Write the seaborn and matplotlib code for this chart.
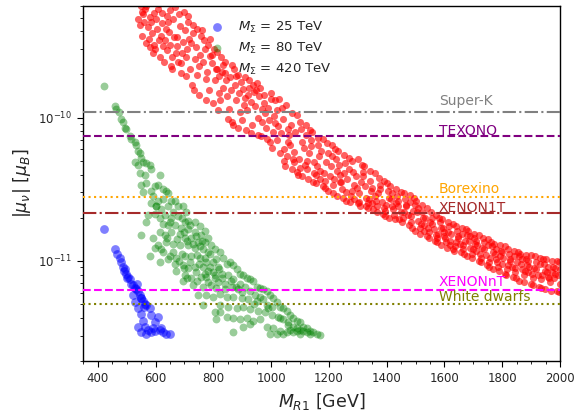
import numpy as np
import pandas as pd
import matplotlib
matplotlib.use("Agg")
import matplotlib.pyplot as plt
import seaborn as sns
from matplotlib.ticker import FixedLocator, NullFormatter

# ---------------- data (M_R1 in GeV, log10 |mu_nu| in mu_B) ----------------
blue_mass = [422, 461, 468, 476, 482, 487, 493, 499, 505, 511, 516, 522, 528, 537,
             539, 545, 551, 557, 562, 568, 528, 539, 580, 551, 586, 609, 557, 562,
             574, 586, 597, 614, 626, 638, 649, 551, 568, 539, 491, 502, 534, 549,
             522, 560, 597, 591, 620]
blue_log_mu = [-10.78, -10.92, -10.95, -10.98, -11.01, -11.04, -11.06, -11.09, -11.11,
               -11.13, -11.16, -11.17, -11.19, -11.16, -11.21, -11.24, -11.26, -11.28,
               -11.30, -11.31, -11.29, -11.33, -11.33, -11.37, -11.38, -11.39, -11.42,
               -11.46, -11.48, -11.50, -11.49, -11.48, -11.50, -11.51, -11.51, -11.50,
               -11.51, -11.46, -11.07, -11.12, -11.20, -11.26, -11.24, -11.32, -11.43,
               -11.47, -11.47]

green_mass = [
    422, 459, 464, 472, 482, 487, 493, 499, 511, 516, 528, 534, 539, 545, 551, 528,
    539, 557, 568, 580, 586, 545, 562, 614, 551, 568, 586, 597, 609, 626, 638, 643,
    557, 591, 609, 626, 655, 666, 586, 603, 643, 678, 695, 707, 574, 597, 632, 655,
    678, 701, 712, 736, 753, 770, 568, 626, 643, 666, 689, 712, 736, 759, 782, 793,
    551, 591, 614, 632, 655, 684, 701, 724, 747, 770, 609, 638, 661, 684, 712, 736,
    764, 782, 805, 580, 597, 626, 649, 672, 701, 724, 753, 776, 799, 614, 643, 666,
    695, 712, 736, 764, 782, 805, 672, 701, 724, 759, 776, 805, 695, 730, 764, 793,
    811, 747, 776, 799, 764, 805, 811,
    823, 835, 846, 818, 858, 869, 881, 892, 904, 916, 927, 939, 950, 962, 973, 985,
    996, 1008, 1019, 1031, 1042, 1054, 1066, 1077, 1089, 1100, 1112, 1123, 1135, 1146,
    1158, 1169,
    829, 852, 869, 892, 840, 864, 887, 910, 927, 944, 823, 846, 869, 898, 921, 950,
    973, 985, 1002, 823, 852, 881, 904, 927, 956, 979, 1002, 1025, 1042, 1060, 1077,
    1100, 1123, 1135, 823, 846, 869, 892, 916, 939, 962, 985, 1008, 1031, 1054, 1077,
    1100, 869, 904, 927, 996, 1019, 1042, 1066, 1089, 1112,
    600, 620, 660, 690, 720, 615, 650, 700, 740, 760, 640, 675, 710, 730, 755, 790,
    620, 660, 690, 745, 770, 810, 680, 720, 750, 790, 820, 700, 740, 770, 800, 830,
    710, 745, 780, 815, 860, 880, 840, 900, 960, 940, 990, 1030, 1060, 1090]
green_log_mu = [
    -9.78, -9.92, -9.94, -9.96, -10.01, -10.03, -10.07, -10.08, -10.13, -10.15, -10.17,
    -10.19, -10.23, -10.25, -10.28, -10.31, -10.33, -10.31, -10.32, -10.33, -10.36,
    -10.39, -10.40, -10.40, -10.47, -10.46, -10.51, -10.48, -10.47, -10.50, -10.51,
    -10.53, -10.52, -10.55, -10.58, -10.57, -10.58, -10.58, -10.60, -10.62, -10.62,
    -10.62, -10.62, -10.66, -10.68, -10.67, -10.68, -10.70, -10.69, -10.73, -10.72,
    -10.73, -10.76, -10.79, -10.73, -10.74, -10.75, -10.75, -10.77, -10.78, -10.80,
    -10.82, -10.84, -10.89, -10.82, -10.84, -10.80, -10.82, -10.80, -10.81, -10.84,
    -10.84, -10.87, -10.87, -10.89, -10.87, -10.88, -10.89, -10.89, -10.91, -10.92,
    -10.94, -10.92, -10.97, -10.91, -10.94, -10.97, -10.98, -10.97, -10.97, -10.98,
    -11.01, -11.01, -11.01, -10.99, -11.02, -11.03, -11.05, -11.04, -11.04, -11.07,
    -11.10, -11.07, -11.10, -11.12, -11.11, -11.11, -11.12, -11.14, -11.17, -11.18,
    -11.17, -11.19, -11.24, -11.24, -11.25, -11.31, -11.36, -11.41,
    -10.94, -10.98, -11.02, -11.04, -11.01, -11.03, -11.06, -11.09, -11.10, -11.12,
    -11.13, -11.14, -11.18, -11.19, -11.20, -11.21, -11.24, -11.26, -11.29, -11.32,
    -11.33, -11.35, -11.38, -11.40, -11.42, -11.43, -11.46, -11.47, -11.49, -11.50,
    -11.51, -11.52,
    -11.09, -11.10, -11.13, -11.16, -11.16, -11.18, -11.20, -11.18, -11.21, -11.24,
    -11.23, -11.25, -11.25, -11.26, -11.27, -11.28, -11.27, -11.31, -11.32, -11.31,
    -11.32, -11.33, -11.32, -11.34, -11.35, -11.36, -11.38, -11.39, -11.41, -11.43,
    -11.46, -11.48, -11.50, -11.51, -11.36, -11.39, -11.40, -11.41, -11.40, -11.42,
    -11.41, -11.46, -11.47, -11.49, -11.50, -11.50, -11.51, -11.50, -11.46, -11.44,
    -11.51, -11.51, -11.51, -11.48, -11.47, -11.49,
    -10.62, -10.64, -10.66, -10.70, -10.75, -10.70, -10.73, -10.80, -10.83, -10.86,
    -10.84, -10.85, -10.86, -10.88, -10.90, -10.95, -10.92, -10.94, -10.95, -10.96,
    -10.98, -10.99, -11.00, -11.01, -11.02, -11.04, -11.06, -11.05, -11.08, -11.09,
    -11.08, -11.12, -11.12, -11.14, -11.15, -11.15, -11.14, -11.18, -11.20, -11.22,
    -11.25, -11.30, -11.33, -11.40, -11.45, -11.49]

red_mass = [
    541, 549, 546, 552,
    554, 563, 559, 566, 556,
    573, 581, 568, 577, 580,
    595, 587, 590, 583, 594,
    599, 608, 604, 611, 601,
    624, 615, 621, 618, 627, 613,
    633, 641, 628, 637, 640,
    651, 646, 657, 644, 653, 649,
    670, 662, 665, 658, 669,
    684, 675, 681, 678, 687, 673,
    689, 698, 694, 701, 691,
    711, 706, 717, 704, 713, 709,
    723, 731, 718, 727, 730,
    745, 737, 740, 733, 744,
    749, 758, 754, 761, 751,
    768, 776, 763, 772, 775,
    790, 782, 785, 778, 789,
    794, 803, 799, 806, 796,
    813, 821, 808, 817, 820,
    835, 827, 830, 823, 834,
    839, 848, 844, 851, 841,
    858, 866, 853, 862, 865,
    880, 872, 875, 868, 879,
    884, 893, 889, 896, 886,
    903, 911, 898, 907, 910,
    925, 917, 920, 913, 924,
    929, 938, 934, 941, 931,
    948, 956, 943, 952, 955,
    970, 962, 965, 958, 969,
    974, 983, 979, 986, 976,
    993, 1001, 988, 997, 1000,
    1015, 1007, 1010, 1003, 1014,
    1019, 1028, 1024, 1031, 1021,
    1038, 1046, 1033, 1042, 1045,
    1060, 1052, 1055, 1048, 1059,
    1074, 1065, 1071, 1068, 1077, 1063,
    1079, 1088, 1084, 1091, 1081,
    1101, 1096, 1107, 1094, 1103, 1099,
    1113, 1121, 1108, 1117, 1120,
    1134, 1125, 1131, 1128, 1137, 1123,
    1150, 1142, 1145, 1138, 1149,
    1161, 1156, 1167, 1154, 1163, 1159,
    1169, 1178, 1174, 1181, 1171,
    1194, 1185, 1191, 1188, 1197, 1183,
    1203, 1211, 1198, 1207, 1210,
    1221, 1216, 1227, 1214, 1223, 1219,
    1240, 1232, 1235, 1228, 1239,
    1254, 1245, 1251, 1248, 1257, 1243,
    1259, 1268, 1264, 1271, 1261,
    1281, 1276, 1287, 1274, 1283, 1279,
    1293, 1301, 1288, 1297, 1300,
    1314, 1305, 1311, 1308, 1317, 1303,
    1330, 1322, 1325, 1318, 1329,
    1341, 1336, 1347, 1334, 1343, 1339,
    1349, 1358, 1354, 1361, 1351,
    1374, 1365, 1371, 1368, 1377, 1363,
    1383, 1391, 1378, 1387, 1390,
    1401, 1396, 1407, 1394, 1403, 1399,
    1420, 1412, 1415, 1408, 1419,
    1434, 1425, 1431, 1428, 1437, 1423,
    1439, 1448, 1444, 1451, 1441,
    1461, 1456, 1467, 1454, 1463, 1459,
    1473, 1481, 1468, 1477, 1480,
    1494, 1485, 1491, 1488, 1497, 1483,
    1510, 1502, 1505, 1498, 1509,
    1521, 1516, 1527, 1514, 1523, 1519,
    1529, 1538, 1534, 1541, 1531,
    1554, 1545, 1551, 1548, 1557, 1543,
    1563, 1571, 1558, 1567, 1570,
    1581, 1576, 1587, 1574, 1583, 1579,
    1600, 1592, 1595, 1588, 1599,
    1614, 1605, 1611, 1608, 1617, 1603,
    1619, 1628, 1624, 1631, 1621,
    1641, 1636, 1647, 1634, 1643, 1639,
    1653, 1661, 1648, 1657, 1660,
    1674, 1665, 1671, 1668, 1677, 1663,
    1690, 1682, 1685, 1678, 1689,
    1701, 1696, 1707, 1694, 1703, 1699,
    1709, 1718, 1714, 1721, 1711,
    1734, 1725, 1731, 1728, 1737, 1723,
    1743, 1751, 1738, 1747, 1750,
    1761, 1756, 1767, 1754, 1763, 1759,
    1780, 1772, 1775, 1768, 1779,
    1794, 1785, 1791, 1788, 1797, 1783,
    1799, 1808, 1804, 1811, 1801,
    1821, 1816, 1827, 1814, 1823, 1819,
    1833, 1841, 1828, 1837, 1840,
    1854, 1845, 1851, 1848, 1857, 1843,
    1870, 1862, 1865, 1858, 1869,
    1881, 1876, 1887, 1874, 1883, 1879,
    1889, 1898, 1894, 1901, 1891,
    1914, 1905, 1911, 1908, 1917, 1903,
    1923, 1931, 1918, 1927, 1930,
    1941, 1936, 1947, 1934, 1943, 1939,
    1960, 1952, 1955, 1948, 1959,
    1974, 1965, 1971, 1968, 1977, 1963,
    1979, 1988, 1984, 1991, 1981,
    1996, 1999, 1993, 1997, 1999]
red_log_mu = [
    -9.31, -9.22, -9.35, -9.26,
    -9.43, -9.24, -9.33, -9.48, -9.28,
    -9.37, -9.51, -9.22, -9.45, -9.30,
    -9.27, -9.41, -9.55, -9.33, -9.49,
    -9.52, -9.24, -9.38, -9.46, -9.31,
    -9.34, -9.58, -9.27, -9.43, -9.50, -9.21,
    -9.46, -9.29, -9.61, -9.38, -9.53,
    -9.25, -9.40, -9.58, -9.33, -9.64, -9.49,
    -9.55, -9.31, -9.44, -9.66, -9.23,
    -9.36, -9.50, -9.28, -9.61, -9.69, -9.44,
    -9.62, -9.26, -9.47, -9.39, -9.55,
    -9.33, -9.71, -9.45, -9.58, -9.29, -9.52,
    -9.48, -9.35, -9.66, -9.77, -9.41,
    -9.38, -9.59, -9.51, -9.81, -9.70,
    -9.64, -9.43, -9.56, -9.39, -9.84,
    -9.46, -9.73, -9.61, -9.52, -9.88,
    -9.57, -9.49, -9.81, -9.68, -9.45,
    -9.62, -9.52, -9.90, -9.74, -9.56,
    -9.54, -9.71, -9.66, -9.95, -9.83,
    -9.79, -9.58, -9.68, -9.88, -9.63,
    -9.61, -9.85, -9.74, -10.01, -9.69,
    -9.72, -9.63, -9.94, -9.81, -10.03,
    -9.88, -9.66, -9.77, -10.05, -9.71,
    -9.70, -9.96, -9.83, -9.75, -10.07,
    -9.80, -9.72, -10.02, -9.91, -9.86,
    -9.74, -9.95, -9.84, -10.09, -9.79,
    -9.89, -9.77, -10.05, -9.82, -10.11,
    -9.81, -10.00, -9.92, -9.76, -10.12,
    -9.94, -9.79, -10.13, -9.85, -10.03,
    -9.84, -10.07, -9.97, -10.15, -9.90,
    -10.02, -9.83, -9.93, -10.17, -9.87,
    -9.88, -10.10, -9.99, -10.21, -10.04,
    -10.16, -9.87, -10.06, -10.25, -9.95,
    -9.93, -10.22, -10.11, -10.01, -10.30,
    -10.08, -9.91, -10.27, -10.34, -10.17,
    -9.97, -10.19, -10.36, -10.05, -10.29, -10.12,
    -10.24, -9.98, -10.10, -10.38, -10.31,
    -10.03, -10.29, -10.17, -10.40, -10.08, -10.35,
    -10.21, -10.05, -10.41, -10.33, -10.12,
    -10.09, -10.36, -10.25, -10.43, -10.16, -10.30,
    -10.31, -10.10, -10.45, -10.20, -10.39,
    -10.14, -10.40, -10.27, -10.46, -10.19, -10.34,
    -10.37, -10.15, -10.23, -10.48, -10.43,
    -10.18, -10.44, -10.31, -10.49, -10.25, -10.39,
    -10.41, -10.19, -10.51, -10.34, -10.27,
    -10.22, -10.47, -10.37, -10.53, -10.29, -10.43,
    -10.45, -10.23, -10.33, -10.55, -10.40,
    -10.26, -10.50, -10.39, -10.56, -10.32, -10.45,
    -10.52, -10.28, -10.43, -10.36, -10.58,
    -10.30, -10.55, -10.47, -10.59, -10.38, -10.51,
    -10.41, -10.29, -10.57, -10.49, -10.60,
    -10.33, -10.59, -10.45, -10.62, -10.38, -10.53,
    -10.56, -10.34, -10.48, -10.41, -10.62,
    -10.37, -10.60, -10.51, -10.63, -10.44, -10.57,
    -10.49, -10.39, -10.64, -10.55, -10.60,
    -10.42, -10.62, -10.53, -10.66, -10.47, -10.58,
    -10.59, -10.44, -10.50, -10.67, -10.63,
    -10.46, -10.65, -10.56, -10.69, -10.51, -10.61,
    -10.62, -10.48, -10.57, -10.70, -10.53,
    -10.50, -10.68, -10.60, -10.71, -10.55, -10.64,
    -10.58, -10.52, -10.71, -10.66, -10.62,
    -10.53, -10.70, -10.61, -10.73, -10.57, -10.66,
    -10.68, -10.54, -10.62, -10.75, -10.59,
    -10.56, -10.73, -10.65, -10.77, -10.61, -10.69,
    -10.72, -10.58, -10.66, -10.79, -10.63,
    -10.61, -10.77, -10.70, -10.81, -10.66, -10.74,
    -10.75, -10.63, -10.70, -10.83, -10.79,
    -10.66, -10.80, -10.73, -10.84, -10.70, -10.77,
    -10.78, -10.68, -10.74, -10.86, -10.82,
    -10.70, -10.84, -10.77, -10.87, -10.73, -10.81,
    -10.83, -10.71, -10.77, -10.89, -10.80,
    -10.73, -10.87, -10.80, -10.91, -10.76, -10.84,
    -10.86, -10.74, -10.81, -10.92, -10.89,
    -10.76, -10.90, -10.83, -10.93, -10.79, -10.87,
    -10.88, -10.77, -10.84, -10.94, -10.81,
    -10.78, -10.92, -10.86, -10.95, -10.82, -10.89,
    -10.91, -10.79, -10.86, -10.97, -10.83,
    -10.81, -10.95, -10.88, -10.98, -10.84, -10.92,
    -10.93, -10.82, -10.89, -11.00, -10.86,
    -10.84, -10.98, -10.91, -11.01, -10.87, -10.95,
    -10.96, -10.85, -10.92, -11.03, -10.89,
    -10.87, -11.01, -10.94, -11.04, -10.90, -10.98,
    -10.99, -10.88, -10.95, -11.06, -10.92,
    -10.89, -11.04, -10.97, -11.07, -10.93, -11.01,
    -11.02, -10.90, -10.98, -11.09, -10.94,
    -10.92, -11.06, -10.99, -11.10, -10.95, -11.03,
    -11.04, -10.93, -11.00, -11.11, -10.97,
    -10.94, -11.08, -11.01, -11.12, -10.97, -11.05,
    -11.06, -10.95, -11.02, -11.14, -10.99,
    -10.96, -11.10, -11.03, -11.15, -10.99, -11.07,
    -11.08, -10.96, -11.04, -11.16, -11.00,
    -10.97, -11.12, -11.05, -11.17, -11.01, -11.09,
    -11.10, -10.98, -11.06, -11.18, -11.02,
    -10.99, -11.13, -11.07, -11.19, -11.02, -11.10,
    -11.11, -10.99, -11.08, -11.20, -11.04,
    -11.00, -11.15, -11.08, -11.21, -11.04, -11.12,
    -11.12, -11.00, -11.09, -11.21, -11.05,
    -11.01, -11.16, -11.10, -11.22, -11.06]

series_labels = [r"$M_\Sigma$ = 25 TeV", r"$M_\Sigma$ = 80 TeV", r"$M_\Sigma$ = 420 TeV"]

limit_names = ["Super-K", "TEXONO", "Borexino", "XENON1T", "XENONnT", "White dwarfs"]
limit_values = [1.1e-10, 7.4e-11, 2.8e-11, 2.15e-11, 6.3e-12, 5.0e-12]

x_ticks = [400, 600, 800, 1000, 1200, 1400, 1600, 1800, 2000]
y_ticks = [1e-11, 1e-10]

# ---------------- styling ----------------
limit_colors = ["gray", "purple", "orange", "brown", "magenta", "olive"]
limit_styles = ["-.", "--", ":", "-.", "--", ":"]
label_lift = [1.12, 1.026, 1.057, 1.023, 1.054, 1.042]

sns.set_style("ticks")
plt.rcParams["font.family"] = ["DejaVu Sans"]
plt.rcParams["mathtext.fontset"] = "dejavusans"

fig = plt.figure(figsize=(5.8, 4.11), dpi=100)
ax = fig.add_axes([0.1436, 0.122, 0.8219, 0.863])

blue_df = pd.DataFrame({"M": blue_mass, "mu": 10.0 ** np.array(blue_log_mu)})
green_df = pd.DataFrame({"M": green_mass, "mu": 10.0 ** np.array(green_log_mu)})
red_df = pd.DataFrame({"M": red_mass, "mu": 10.0 ** np.array(red_log_mu)})

sns.scatterplot(data=blue_df, x="M", y="mu", ax=ax, color="blue", s=40, alpha=0.5,
                linewidth=0, label=series_labels[0])
sns.scatterplot(data=green_df, x="M", y="mu", ax=ax, color="green", s=32, alpha=0.4,
                linewidth=0, label=series_labels[1])
sns.scatterplot(data=red_df, x="M", y="mu", ax=ax, color="red", s=26, alpha=0.62,
                linewidth=0, label=series_labels[2])

for name, val, col, ls, lift in zip(limit_names, limit_values, limit_colors,
                                    limit_styles, label_lift):
    ax.axhline(val, color=col, ls=ls, lw=1.5, zorder=3)
    ax.text(1580, val * lift, name, color=col, fontsize=10, ha="left",
            va="baseline", zorder=4)

ax.set_yscale("log")
ax.set_xlim(350, 2000)
ax.set_ylim(2e-12, 6e-10)

ax.xaxis.set_major_locator(FixedLocator(x_ticks))
ax.xaxis.set_minor_locator(FixedLocator(list(range(350, 2001, 50))))
ax.xaxis.set_minor_formatter(NullFormatter())
ax.yaxis.set_major_locator(FixedLocator(y_ticks))
y_minor = [m * 10.0 ** e for e in (-12, -11, -10) for m in range(2, 10)
           if 2e-12 <= m * 10.0 ** e <= 6e-10]
ax.yaxis.set_minor_locator(FixedLocator(y_minor))
ax.yaxis.set_minor_formatter(NullFormatter())

ax.tick_params(axis="both", which="major", labelsize=8.5, direction="out", length=4.5,
               color="black")
ax.tick_params(axis="both", which="minor", direction="out", length=2.5, color="black")
for sp in ax.spines.values():
    sp.set_visible(True)
    sp.set_color("black")
    sp.set_linewidth(1.0)

ax.set_xlabel(r"$M_{R1}$ [GeV]", fontsize=12.5)
ax.set_ylabel(r"$|\mu_\nu|\ [\mu_B]$", fontsize=12.5)

ax.legend(loc="upper left", bbox_to_anchor=(0.228, 0.995), frameon=False, fontsize=9.5,
          handletextpad=0.6, labelspacing=0.45)

fig.savefig("out.png", dpi=100)
